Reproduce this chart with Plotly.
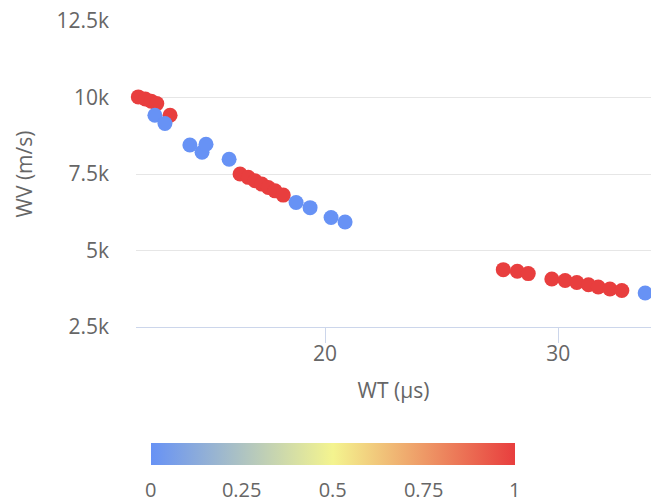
import plotly.graph_objects as go

# WT (µs) vs WV (m/s); flag is the colour value (0 = blue, 1 = red)
wt = [12.00, 12.30, 12.55, 12.79, 13.36,
      12.71, 13.14, 14.21, 14.73, 14.90, 15.89,
      16.36, 16.71, 17.00, 17.29, 17.57, 17.86, 18.21,
      18.76, 19.36, 20.26, 20.86,
      27.64, 28.24, 28.71, 29.72, 30.29, 30.79, 31.29, 31.71, 32.21, 32.72,
      33.72]
wv = [10020, 9950, 9880, 9800, 9420,
      9420, 9150, 8450, 8210, 8470, 7980,
      7500, 7390, 7280, 7170, 7060, 6950, 6810,
      6570, 6400, 6080, 5930,
      4375, 4320, 4245, 4070, 4020, 3955, 3880, 3805, 3740, 3695,
      3610]
flag = [1, 1, 1, 1, 1,
        0, 0, 0, 0, 0, 0,
        1, 1, 1, 1, 1, 1, 1,
        0, 0, 0, 0,
        1, 1, 1, 1, 1, 1, 1, 1, 1, 1,
        0]

y_tick_vals = [2500, 5000, 7500, 10000, 12500]
y_tick_text = ["2.5k", "5k", "7.5k", "10k", "12.5k"]
x_tick_vals = [20, 30]
cbar_tick_vals = [0, 0.25, 0.5, 0.75, 1]
cbar_tick_text = ["0", "0.25", "0.5", "0.75", "1"]

FONT = "Open Sans"
GREY = "#666666"
TICK_SIZE = 21
TITLE_SIZE = 21

fig = go.Figure(go.Scatter(
    x=wt, y=wv, mode="markers", cliponaxis=False,
    marker=dict(
        size=15, color=flag, cmin=0, cmax=1,
        colorscale=[[0, "#6792f5"], [0.5, "#f4f48f"], [1, "#e83e3e"]],
        line=dict(width=0),
        colorbar=dict(
            orientation="h", xref="container", yref="container",
            x=0.646, xanchor="center", y=1 - 443 / 504, yanchor="top",
            xpad=0, ypad=0,
            lenmode="pixels", len=364, thickness=22, outlinewidth=0,
            tickvals=cbar_tick_vals, ticktext=cbar_tick_text,
            ticks="outside", ticklen=8, tickcolor="rgba(0,0,0,0)",
            ticklabeloverflow="allow",
            tickfont=dict(family=FONT, size=20, color=GREY),
        ),
    ),
    hoverinfo="skip",
))

fig.update_layout(
    width=651, height=504,
    margin=dict(l=136, r=0, t=21, b=177),
    plot_bgcolor="white", paper_bgcolor="white",
    showlegend=False,
    font=dict(family=FONT, color=GREY),
    xaxis=dict(
        range=[11.9, 33.97], tickvals=x_tick_vals,
        showgrid=False, zeroline=False,
        showline=True, linecolor="#ccd6eb", linewidth=1,
        ticks="outside", ticklen=15, tickcolor="#ccd6eb",
        ticklabelstandoff=-7,
        tickfont=dict(family=FONT, size=TICK_SIZE, color=GREY),
        title=dict(text="WT (µs)", font=dict(family=FONT, size=TITLE_SIZE, color=GREY), standoff=17),
    ),
    yaxis=dict(
        range=[2500, 12500], tickvals=y_tick_vals, ticktext=y_tick_text,
        showgrid=True, gridcolor="#e6e6e6", zeroline=False, showline=False,
        ticklabelstandoff=26,
        tickfont=dict(family=FONT, size=TICK_SIZE, color=GREY),
        title=dict(text="WV (m/s)", font=dict(family=FONT, size=TITLE_SIZE, color=GREY), standoff=18),
    ),
)

fig.write_html("out.html")
